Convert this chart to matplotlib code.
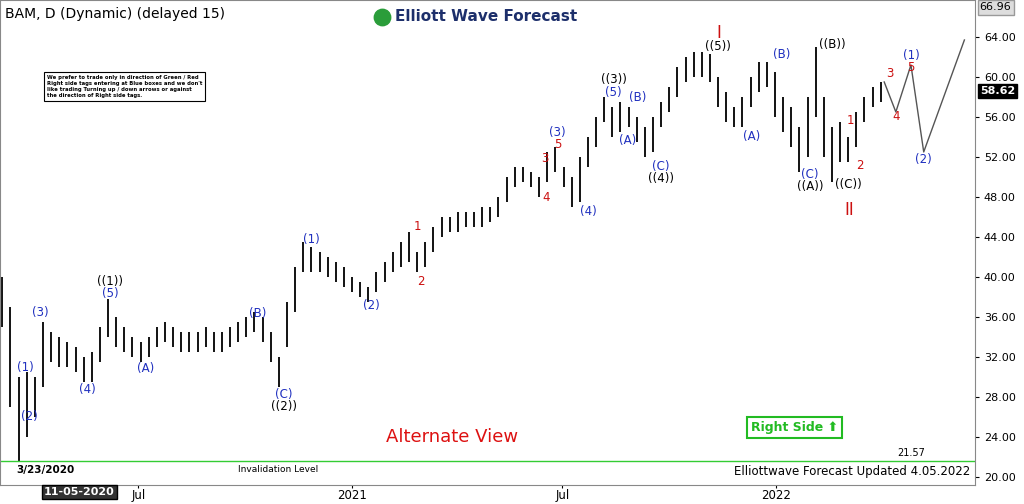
import numpy as np
import pandas as pd
import matplotlib.pyplot as plt
import matplotlib.dates as mdates

# weekly high / low (BAM daily chart, grouped by week)
weeks = pd.date_range("2020-03-06", periods=109, freq="7D")
highs = [40, 37, 30, 30.5, 30, 35.5, 34.5, 34, 33.5, 33, 32, 32.5, 35, 37.8, 36, 35, 34, 33.5,
         34, 35, 35.5, 35, 34.5, 34.5, 34.5, 35, 34.5, 34.5, 35, 35.5, 36, 36.5, 36, 34.5, 32,
         37.5, 41, 43.5, 43, 42.5, 42, 41.5, 41, 40, 39.5, 39, 40.5, 41.5, 42.5, 43.5, 44.5, 42.5,
         43.5, 45, 46, 46, 46.5, 46.5, 46.5, 47, 47, 48, 50, 51, 51, 50.5, 50, 52.5, 53, 51, 50,
         52, 54, 56, 58, 57, 57.5, 57, 56, 55, 56, 57.5, 59, 61, 62, 62.5, 62.5, 62.3, 60, 58.5,
         57, 58, 60, 61.5, 61.5, 60.5, 58, 57, 55, 58, 63, 58, 55, 55.5, 54, 56.5, 58, 59, 59.5]
lows = [35, 27, 21.6, 24, 26, 29, 31.5, 31, 31, 30.5, 29.5, 29.5, 31.5, 34, 33, 32.5, 32, 31.5,
        32, 33, 33.5, 33, 32.5, 32.5, 32.5, 33, 32.5, 32.5, 33, 33.5, 34, 34.5, 33.5, 31.5, 29,
        33, 36.5, 40.5, 40.5, 40.5, 40, 39.5, 39, 38.5, 38, 37.5, 38.5, 39.5, 40.5, 41, 41.5, 40.5,
        41, 42.5, 44, 44.5, 44.5, 45, 45, 45, 45.5, 46, 47.5, 49, 49.5, 49, 48, 49.5, 50.5, 49, 47,
        47.5, 51, 53, 55.5, 54, 54.5, 55, 53.5, 52, 52.5, 55, 56.5, 58, 59.5, 60, 60, 59.5, 57,
        55.5, 55, 55, 57, 58.5, 59, 56, 54.5, 53, 50.5, 52, 56, 52, 49.5, 51.5, 51.5, 53, 55.5,
        57, 57.5]

BLUE, RED, BLK = "#1f2fbf", "#cc1010", "black"
labels = [
    ("(1)", "2020-03-26", 30.9, BLUE), ("(2)", "2020-03-29", 26.0, BLUE),
    ("(3)", "2020-04-08", 36.4, BLUE), ("(4)", "2020-05-18", 28.7, BLUE),
    ("(5)", "2020-06-07", 38.3, BLUE), ("((1))", "2020-06-07", 39.5, BLK),
    ("(A)", "2020-07-07", 30.8, BLUE), ("(B)", "2020-10-12", 36.3, BLUE),
    ("(C)", "2020-11-03", 28.2, BLUE), ("((2))", "2020-11-03", 27.0, BLK),
    ("(1)", "2020-11-27", 43.7, BLUE), ("(2)", "2021-01-18", 37.1, BLUE),
    ("1", "2021-02-26", 45.0, RED), ("2", "2021-03-01", 39.5, RED),
    ("4", "2021-06-17", 47.9, RED), ("3", "2021-06-16", 51.8, RED),
    ("5", "2021-06-27", 53.2, RED), ("(3)", "2021-06-27", 54.4, BLUE),
    ("(4)", "2021-07-23", 46.5, BLUE), ("(5)", "2021-08-14", 58.4, BLUE),
    ("((3))", "2021-08-14", 59.7, BLK), ("(A)", "2021-08-26", 53.6, BLUE),
    ("(B)", "2021-09-04", 57.9, BLUE), ("(C)", "2021-09-24", 51.0, BLUE),
    ("((4))", "2021-09-24", 49.8, BLK), ("((5))", "2021-11-12", 63.0, BLK),
    ("(A)", "2021-12-11", 54.0, BLUE), ("(B)", "2022-01-06", 62.2, BLUE),
    ("(C)", "2022-01-30", 50.2, BLUE), ("((A))", "2022-01-30", 49.0, BLK),
    ("((B))", "2022-02-18", 63.2, BLK), ("1", "2022-03-06", 55.6, RED),
    ("2", "2022-03-14", 51.1, RED), ("((C))", "2022-03-04", 49.2, BLK),
    ("3", "2022-04-09", 60.3, RED), ("4", "2022-04-14", 56.0, RED),
    ("5", "2022-04-27", 60.9, RED), ("(1)", "2022-04-27", 62.1, BLUE),
    ("(2)", "2022-05-08", 51.7, BLUE),
]
proj_dates = ["2022-04-04", "2022-04-14", "2022-04-27", "2022-05-08", "2022-06-12"]
proj_vals = [59.5, 56.5, 61.2, 52.5, 63.7]

fig = plt.figure(figsize=(10.24, 5.04), dpi=100)
ax = fig.add_axes([0.0, 0.038, 0.952, 0.962])
ax.vlines(weeks, lows, highs, color="black", lw=1.3)
for t, d, v, c in labels:
    ax.text(pd.Timestamp(d), v, t, color=c, fontsize=8.5, ha="center", va="center")
ax.text(pd.Timestamp("2021-11-13"), 64.4, "I", color=RED, fontsize=12, ha="center", va="center")
ax.text(pd.Timestamp("2022-03-05"), 47.6, "II", color=RED, fontsize=12, ha="center", va="top")
ax.plot(pd.to_datetime(proj_dates), proj_vals, color="#555555", lw=1)

ax.axhline(21.57, color="#33cc33", lw=1)
ax.text(pd.Timestamp("2020-10-29"), 21.2, "Invalidation Level", fontsize=6.5, ha="center", va="top")
ax.text(pd.Timestamp("2020-04-12"), 21.2, "3/23/2020", fontsize=7.5, fontweight="bold", ha="center", va="top")
ax.text(pd.Timestamp("2022-04-15"), 22.4, "21.57", fontsize=7, ha="left", va="center")
ax.text(pd.Timestamp("2021-03-28"), 24.0, "Alternate View", color="#dd1111", fontsize=13, ha="center", va="center")
ax.text(0.815, 0.118, "Right Side \u2b06", transform=ax.transAxes, color="#22bb22", fontsize=9,
        fontweight="bold", ha="center", va="center",
        bbox=dict(boxstyle="square,pad=0.3", fc="white", ec="#22bb22", lw=1.5))
ax.text(0.995, 0.015, "Elliottwave Forecast Updated 4.05.2022", transform=ax.transAxes,
        fontsize=8.5, ha="right", va="bottom")
ax.text(0.005, 0.985, "BAM, D (Dynamic) (delayed 15)", transform=ax.transAxes, fontsize=10, va="top")
ax.text(0.405, 0.965, "Elliott Wave Forecast", transform=ax.transAxes, fontsize=11,
        fontweight="bold", color="#1d2f6b", ha="left", va="center")
ax.scatter([0.392], [0.965], transform=ax.transAxes, s=140, color="#2a9d3a", zorder=3)
ax.text(0.048, 0.845, "We prefer to trade only in direction of Green / Red\nRight side tags entering at Blue boxes and we don't\n"
        "like trading Turning up / down arrows or against\nthe direction of Right side tags.",
        transform=ax.transAxes, fontsize=3.8, fontweight="bold", va="top",
        bbox=dict(boxstyle="square,pad=0.6", fc="white", ec="black", lw=0.8))

ax.set_xlim(pd.Timestamp("2020-03-04"), pd.Timestamp("2022-06-21"))
ax.set_ylim(19.2, 67.7)
ax.yaxis.tick_right()
ax.set_yticks(np.arange(20, 65, 4))
ax.set_yticklabels([f"{v:.2f}" for v in np.arange(20, 65, 4)], fontsize=8)
ax.set_xticks(pd.to_datetime(["2020-07-01", "2021-01-01", "2021-07-01", "2022-01-01"]))
ax.set_xticklabels(["Jul", "2021", "Jul", "2022"], fontsize=8.5)
ax.tick_params(axis="x", length=2, pad=1)
ax.tick_params(axis="y", length=3)
ax.text(1.005, 58.62, "58.62", transform=ax.get_yaxis_transform(), fontsize=8, color="white",
        fontweight="bold", va="center", bbox=dict(boxstyle="square,pad=0.2", fc="black"))
ax.text(1.005, 66.96, "66.96", transform=ax.get_yaxis_transform(), fontsize=8, va="center",
        bbox=dict(boxstyle="square,pad=0.2", fc="#dddddd", ec="#999999"))
ax.text(0.045, -0.005, "11-05-2020", transform=ax.transAxes, fontsize=8, color="white",
        fontweight="bold", va="top", bbox=dict(boxstyle="square,pad=0.2", fc="#333333"))
for s in ax.spines.values():
    s.set_color("#888888")
fig.savefig("out.png")
